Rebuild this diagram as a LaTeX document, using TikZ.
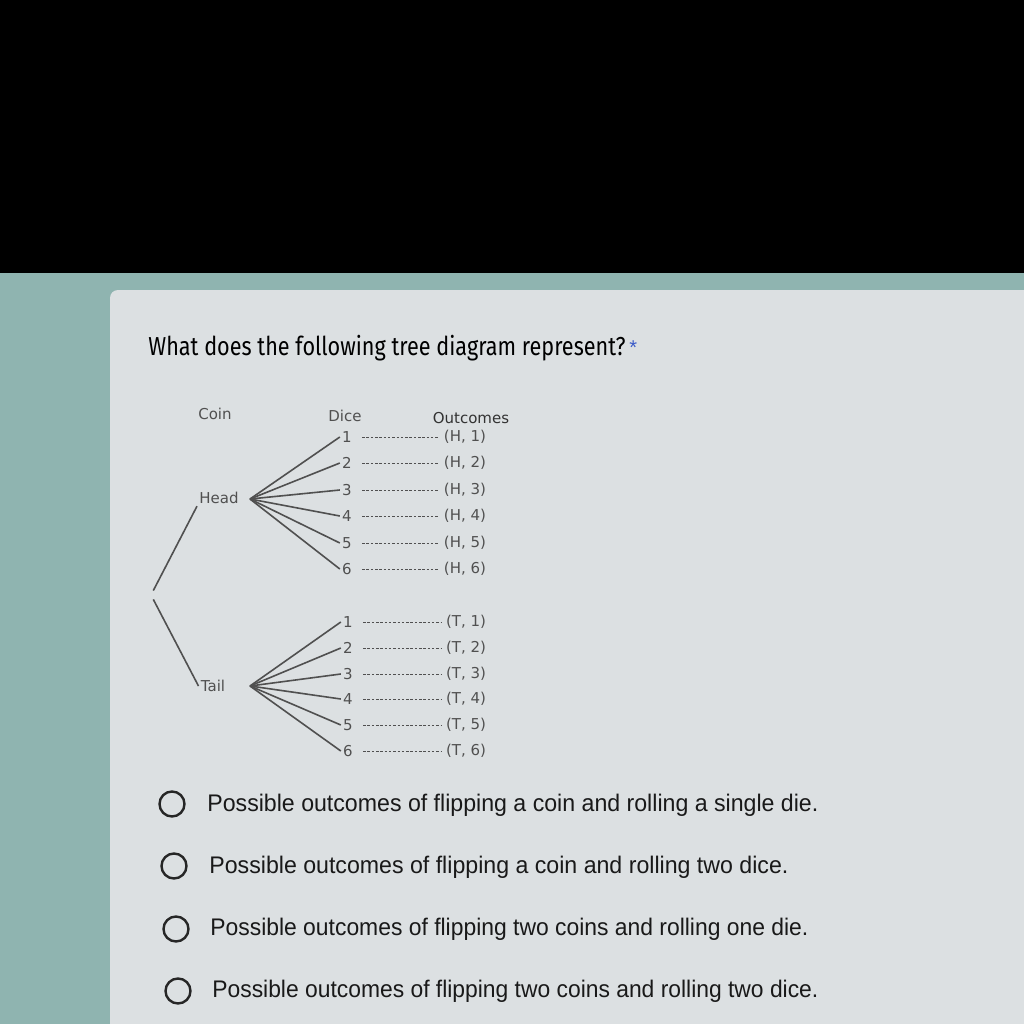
\documentclass[tikz,border=0pt]{standalone}
\usepackage{fontspec}
\usepackage{graphicx}
\setmainfont{Liberation Sans}
\newfontfamily\titlefont{Fira Sans}
\newfontfamily\treefont{DejaVu Sans}
\usetikzlibrary{positioning}
\definecolor{screenteal}{HTML}{8FB4B0}
\definecolor{cardgray}{HTML}{DCE0E2}
\definecolor{inkgray}{HTML}{505050}
\definecolor{starblue}{HTML}{3B5BC8}
\newcommand{\fitw}[2]{\resizebox{#1}{\height}{#2}}

\begin{document}
\begin{tikzpicture}[x=1pt, y=-1pt, node distance={118pt}, thick,
    lbl/.style = {font=\treefont\fontsize{15}{17}\selectfont, text=inkgray, inner sep=2pt},
    branch/.style = {draw=inkgray, line width=1.6pt},
    dots/.style = {draw=inkgray, line width=0.9pt, dash pattern=on 2.5pt off 1.8pt, shorten <=8pt, shorten >=3pt},
    choice/.style = {draw=black!85, line width=2.4pt, circle, minimum size=25pt, inner sep=0pt},
    answer/.style = {anchor=base west, inner sep=0pt, font=\fontsize{24}{28}\selectfont, text=black!90}]
        \useasboundingbox (0,0) rectangle (1024,1024);
        \fill[black] (0,0) rectangle (1024,273);
        \fill[screenteal] (0,273) rectangle (1024,1024);
        \fill[cardgray, rounded corners=8pt] (110,290) rectangle (1050,1050);

        \node[anchor=base west, inner sep=0pt, font=\titlefont\fontsize{26}{30}\selectfont] (Q) at (148,355) {\fitw{477pt}{What does the following tree diagram represent?}};
        \node[anchor=base west, inner sep=0pt, text=starblue, font=\fontsize{20}{22}\selectfont] (star) at (629,354) {*};

        \node[lbl] (Coin) at (215,414) {Coin};
        \node[lbl] (Dice) at (345,416) {Dice};
        \node[lbl, text=black!80] (Out) at (471,418) {Outcomes};

        \coordinate (R) at (151,595);
        \node[lbl] (H) at (219,498) {Head};
        \node[lbl] (T) at (213,686) {Tail};
        \coordinate (Hb) at (250,499);
        \coordinate (Tb) at (250,686);

        \node[lbl] (H1) at (347,437) {1};
        \node[lbl] (H2) at (347,463) {2};
        \node[lbl] (H3) at (347,490) {3};
        \node[lbl] (H4) at (347,516) {4};
        \node[lbl] (H5) at (347,543) {5};
        \node[lbl] (H6) at (347,569) {6};
        \node[lbl] (HO1) [right of = H1] {(H, 1)};
        \node[lbl] (HO2) [right of = H2] {(H, 2)};
        \node[lbl] (HO3) [right of = H3] {(H, 3)};
        \node[lbl] (HO4) [right of = H4] {(H, 4)};
        \node[lbl] (HO5) [right of = H5] {(H, 5)};
        \node[lbl] (HO6) [right of = H6] {(H, 6)};

        \node[lbl] (T1) at (348,622) {1};
        \node[lbl] (T2) at (348,648) {2};
        \node[lbl] (T3) at (348,674) {3};
        \node[lbl] (T4) at (348,699) {4};
        \node[lbl] (T5) at (348,725) {5};
        \node[lbl] (T6) at (348,751) {6};
        \node[lbl] (TO1) [right of = T1] {(T, 1)};
        \node[lbl] (TO2) [right of = T2] {(T, 2)};
        \node[lbl] (TO3) [right of = T3] {(T, 3)};
        \node[lbl] (TO4) [right of = T4] {(T, 4)};
        \node[lbl] (TO5) [right of = T5] {(T, 5)};
        \node[lbl] (TO6) [right of = T6] {(T, 6)};

        \draw[branch, shorten <=5pt] (R) -- (H.south west);
        \draw[branch, shorten <=5pt] (R) -- (T.west);

        \draw[branch] (Hb) -- (H1.west);
        \draw[branch] (Hb) -- (H2.west);
        \draw[branch] (Hb) -- (H3.west);
        \draw[branch] (Hb) -- (H4.west);
        \draw[branch] (Hb) -- (H5.west);
        \draw[branch] (Hb) -- (H6.west);
        \draw[branch] (Tb) -- (T1.west);
        \draw[branch] (Tb) -- (T2.west);
        \draw[branch] (Tb) -- (T3.west);
        \draw[branch] (Tb) -- (T4.west);
        \draw[branch] (Tb) -- (T5.west);
        \draw[branch] (Tb) -- (T6.west);

        \draw[dots] (H1) -- (HO1);
        \draw[dots] (H2) -- (HO2);
        \draw[dots] (H3) -- (HO3);
        \draw[dots] (H4) -- (HO4);
        \draw[dots] (H5) -- (HO5);
        \draw[dots] (H6) -- (HO6);
        \draw[dots] (T1) -- (TO1);
        \draw[dots] (T2) -- (TO2);
        \draw[dots] (T3) -- (TO3);
        \draw[dots] (T4) -- (TO4);
        \draw[dots] (T5) -- (TO5);
        \draw[dots] (T6) -- (TO6);

        \node[choice] (C1) at (172,804) {};
        \node[choice] (C2) at (174,866) {};
        \node[choice] (C3) at (176,929) {};
        \node[choice] (C4) at (178,991) {};
        \node[answer] (A1) at (207,811) {\fitw{611pt}{Possible outcomes of flipping a coin and rolling a single die.}};
        \node[answer] (A2) at (209,873) {\fitw{579pt}{Possible outcomes of flipping a coin and rolling two dice.}};
        \node[answer] (A3) at (210,935) {\fitw{598pt}{Possible outcomes of flipping two coins and rolling one die.}};
        \node[answer] (A4) at (212,997) {\fitw{606pt}{Possible outcomes of flipping two coins and rolling two dice.}};
    \end{tikzpicture}
\end{document}
